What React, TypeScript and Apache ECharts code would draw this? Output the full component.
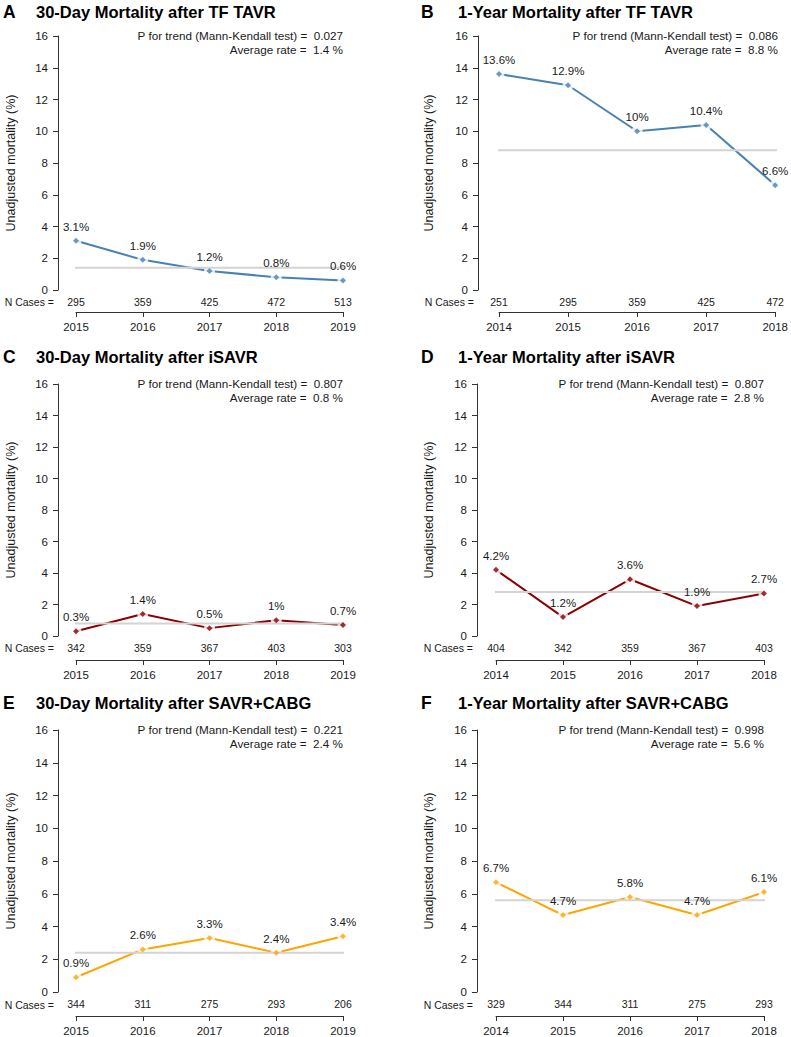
import React, { useEffect, useRef } from "react";
import * as echarts from "echarts";

const FONT = "'Liberation Sans', Arial, Helvetica, sans-serif";
const TEXT = "#1a1a1a";
const AXIS = "#333333";
const AVG_COLOR = "#d3d3d3";

// ---------- data ----------
const panelLetters = ["A", "B", "C", "D", "E", "F"];
const panelTitles = [
  "30-Day Mortality after TF TAVR",
  "1-Year Mortality after TF TAVR",
  "30-Day Mortality after iSAVR",
  "1-Year Mortality after iSAVR",
  "30-Day Mortality after SAVR+CABG",
  "1-Year Mortality after SAVR+CABG",
];
const years30Day = [2015, 2016, 2017, 2018, 2019];
const years1Year = [2014, 2015, 2016, 2017, 2018];

const mortA = [3.1, 1.9, 1.2, 0.8, 0.6];
const casesA = [295, 359, 425, 472, 513];
const mortB = [13.6, 12.9, 10, 10.4, 6.6];
const casesB = [251, 295, 359, 425, 472];
const mortC = [0.3, 1.4, 0.5, 1, 0.7];
const casesC = [342, 359, 367, 403, 303];
const mortD = [4.2, 1.2, 3.6, 1.9, 2.7];
const casesD = [404, 342, 359, 367, 403];
const mortE = [0.9, 2.6, 3.3, 2.4, 3.4];
const casesE = [344, 311, 275, 293, 206];
const mortF = [6.7, 4.7, 5.8, 4.7, 6.1];
const casesF = [329, 344, 311, 275, 293];

const pTrend = ["0.027", "0.086", "0.807", "0.807", "0.221", "0.998"];
const avgRate = [1.4, 8.8, 0.8, 2.8, 2.4, 5.6];

const yTicks = { min: 0, max: 16, interval: 2 };

const panelYears = [years30Day, years1Year, years30Day, years1Year, years30Day, years1Year];
const panelMort = [mortA, mortB, mortC, mortD, mortE, mortF];
const panelCases = [casesA, casesB, casesC, casesD, casesE, casesF];
const panelColors = ["#4682B4", "#4682B4", "#8B0000", "#8B0000", "#FFA500", "#FFA500"];

// ---------- layout (pixels) ----------
const layouts = [
  { axisX: 58, fx: 76, lx: 343, top: 36, bottom: 290, axisOff: 22, titleY: 12 },
  { axisX: 478, fx: 499, lx: 778, top: 36, bottom: 290, axisOff: 22, titleY: 12 },
  { axisX: 58, fx: 76, lx: 343, top: 384, bottom: 636, axisOff: 24, titleY: 357 },
  { axisX: 477, fx: 496, lx: 764, top: 384, bottom: 636, axisOff: 24, titleY: 357 },
  { axisX: 58, fx: 76, lx: 343, top: 730, bottom: 993, axisOff: 24, titleY: 703 },
  { axisX: 477, fx: 496, lx: 764, top: 730, bottom: 993, axisOff: 24, titleY: 703 },
];
const colLetterX = [3, 421];
const colTitleX = [36, 458];
const colNameCenter = [10, 428];
const AVG_EXT = 0.12;

function buildOption() {
  const grid: any[] = [];
  const xAxis: any[] = [];
  const yAxis: any[] = [];
  const series: any[] = [];
  const graphic: any[] = [];

  panelLetters.forEach((letter, i) => {
    const L = layouts[i];
    const col = i % 2;
    const years = panelYears[i];
    const mort = panelMort[i];
    const cases = panelCases[i];
    const color = panelColors[i];
    const first = years[0];
    const last = years[years.length - 1];
    const pts = years.map((y, k) => [y, mort[k]]);

    grid.push({
      left: L.fx,
      top: L.top,
      width: L.lx - L.fx,
      height: L.bottom - L.top,
      containLabel: false,
    });

    const yOffset = L.fx - L.axisX;
    yAxis.push({
      gridIndex: i,
      type: "value",
      min: yTicks.min,
      max: yTicks.max,
      interval: yTicks.interval,
      offset: yOffset,
      axisLine: { show: true, onZero: false, lineStyle: { color: AXIS, width: 1 } },
      axisTick: { show: true, length: 5, lineStyle: { color: AXIS, width: 1 } },
      axisLabel: { fontSize: 11.5, color: TEXT, margin: 10, fontFamily: FONT },
      splitLine: { show: false },
      name: "Unadjusted mortality (%)",
      nameLocation: "middle",
      nameGap: L.axisX - colNameCenter[col] - 7,
      nameTextStyle: { fontSize: 12.5, color: TEXT, fontFamily: FONT },
    });

    // year axis
    xAxis.push({
      gridIndex: i,
      type: "value",
      position: "bottom",
      min: first,
      max: last,
      interval: 1,
      offset: L.axisOff,
      axisLine: { show: true, onZero: false, lineStyle: { color: AXIS, width: 1 } },
      axisTick: { show: true, length: 5, lineStyle: { color: AXIS, width: 1 } },
      axisLabel: {
        fontSize: 11.5,
        color: TEXT,
        margin: 9,
        fontFamily: FONT,
        formatter: (v: number) => String(v),
      },
      splitLine: { show: false },
    });
    // N cases axis
    xAxis.push({
      gridIndex: i,
      type: "value",
      position: "bottom",
      min: first,
      max: last,
      interval: 1,
      offset: 0,
      axisLine: { show: false, onZero: false },
      axisTick: { show: false },
      axisLabel: {
        fontSize: 10.5,
        color: TEXT,
        margin: 6,
        fontFamily: FONT,
        formatter: (v: number) => {
          const k = years.indexOf(Math.round(v));
          return k >= 0 ? String(cases[k]) : "";
        },
      },
      splitLine: { show: false },
    });

    const xi = i * 2;
    series.push({
      type: "line",
      xAxisIndex: xi,
      yAxisIndex: i,
      data: pts,
      showSymbol: false,
      symbol: "none",
      lineStyle: { color, width: 2 },
      z: 2,
      silent: true,
    });
    series.push({
      type: "scatter",
      xAxisIndex: xi,
      yAxisIndex: i,
      data: pts,
      symbol: "circle",
      symbolSize: 11,
      itemStyle: { color: "#ffffff" },
      z: 3,
      silent: true,
    });
    series.push({
      type: "line",
      xAxisIndex: xi,
      yAxisIndex: i,
      data: [
        [first - AVG_EXT, avgRate[i]],
        [last + AVG_EXT, avgRate[i]],
      ],
      clip: false,
      showSymbol: false,
      symbol: "none",
      lineStyle: { color: AVG_COLOR, width: 2 },
      z: 4,
      silent: true,
    });
    series.push({
      type: "scatter",
      xAxisIndex: xi,
      yAxisIndex: i,
      data: pts,
      symbol: "diamond",
      symbolSize: 6,
      itemStyle: { color },
      z: 5,
      label: {
        show: true,
        position: "top",
        distance: 5,
        fontSize: 11.5,
        color: TEXT,
        textBorderWidth: 0,
        textBorderColor: "transparent",
        opacity: 1,
        fontFamily: FONT,
        formatter: (p: any) => `${p.value[1]}%`,
      },
    });

    // texts
    graphic.push({
      type: "text",
      x: colLetterX[col],
      y: L.titleY,
      style: {
        text: letter,
        fontSize: 17.5,
        fontWeight: "bold",
        fontFamily: FONT,
        fill: "#000",
        align: "left",
        verticalAlign: "middle",
      },
    });
    graphic.push({
      type: "text",
      x: colTitleX[col],
      y: L.titleY,
      style: {
        text: panelTitles[i],
        fontSize: 16.5,
        fontWeight: "bold",
        fontFamily: FONT,
        fill: "#000",
        align: "left",
        verticalAlign: "middle",
      },
    });
    graphic.push({
      type: "text",
      x: L.lx,
      y: L.top - 1,
      style: {
        text: `P for trend (Mann-Kendall test) =  ${pTrend[i]}`,
        fontSize: 11.7,
        fontFamily: FONT,
        fill: TEXT,
        align: "right",
        verticalAlign: "middle",
      },
    });
    graphic.push({
      type: "text",
      x: L.lx,
      y: L.top + 13,
      style: {
        text: `Average rate =  ${avgRate[i]} %`,
        fontSize: 11.7,
        fontFamily: FONT,
        fill: TEXT,
        align: "right",
        verticalAlign: "middle",
      },
    });
    graphic.push({
      type: "text",
      x: L.axisX - 4,
      y: L.bottom + 11.5,
      style: {
        text: "N Cases =",
        fontSize: 10.5,
        fontFamily: FONT,
        fill: TEXT,
        align: "right",
        verticalAlign: "middle",
      },
    });
  });

  return {
    animation: false,
    backgroundColor: "#ffffff",
    textStyle: { fontFamily: FONT },
    grid,
    xAxis,
    yAxis,
    series,
    graphic,
  };
}

export default function App() {
  const ref = useRef<HTMLDivElement>(null);
  useEffect(() => {
    document.body.style.margin = "0";
    const chart = echarts.init(ref.current as HTMLDivElement, null, { renderer: "svg" });
    chart.setOption(buildOption() as any);
    return () => chart.dispose();
  }, []);
  return <div ref={ref} style={{ width: 791, height: 1037 }} />;
}
